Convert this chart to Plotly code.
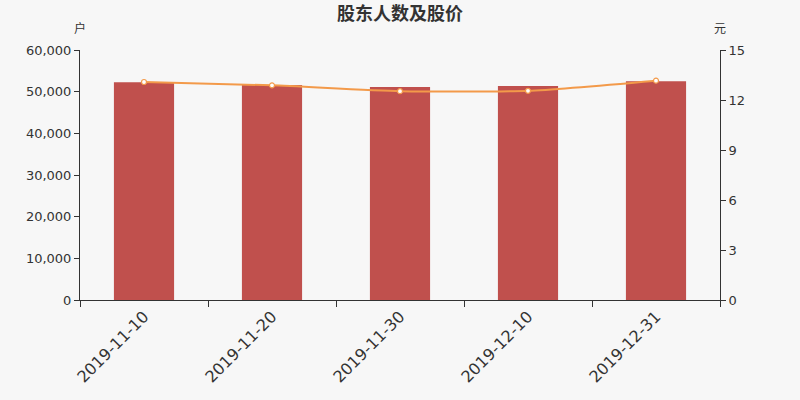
import plotly.graph_objects as go

# Data
dates = ["2019-11-10", "2019-11-20", "2019-11-30", "2019-12-10", "2019-12-31"]
holders = [52250, 51600, 51100, 51350, 52480]
prices = [13.08, 12.88, 12.53, 12.55, 13.16]

BG = "#f7f7f7"
BAR = "#c0504d"
LINE = "#f39a4a"
AXIS = "#333333"
TEXT = "#333333"
FONT = "DejaVu Sans, Noto Sans CJK SC, sans-serif"
CJK = "Noto Sans CJK SC"

fig = go.Figure()

fig.add_trace(go.Bar(
    x=dates, y=holders,
    marker=dict(color=BAR, line=dict(width=0)),
    width=0.47,
    name="股东人数",
    yaxis="y",
))

fig.add_trace(go.Scatter(
    x=dates, y=prices,
    mode="lines+markers",
    line=dict(color=LINE, width=2, shape="spline", smoothing=0.6),
    marker=dict(size=5, color="#ffffff", line=dict(color=LINE, width=1.2)),
    name="股价",
    yaxis="y2",
))

fig.update_layout(
    width=800, height=400,
    paper_bgcolor=BG, plot_bgcolor=BG,
    font=dict(family=FONT, color=TEXT),
    showlegend=False,
    margin=dict(l=80, r=80, t=50, b=100),
    title=dict(
        text="<b>股东人数及股价</b>",
        font=dict(size=18, color=TEXT, family=CJK),
        x=0.5, xanchor="center", y=0.965, yanchor="middle",
    ),
    xaxis=dict(
        type="category",
        showgrid=False,
        showline=True, linecolor=AXIS, linewidth=1,
        ticks="outside", ticklen=6, tickcolor=AXIS,
        tickson="boundaries",
        tickangle=-45,
        tickfont=dict(size=16, color=TEXT),
    ),
    yaxis=dict(
        range=[0, 60000],
        dtick=10000,
        tickformat=",d",
        showgrid=False, zeroline=False,
        showline=True, linecolor=AXIS, linewidth=1,
        ticks="outside", ticklen=5, tickcolor=AXIS,
        tickfont=dict(size=13, color=TEXT),
    ),
    yaxis2=dict(
        range=[0, 15],
        dtick=3,
        overlaying="y", side="right",
        showgrid=False, zeroline=False,
        showline=True, linecolor=AXIS, linewidth=1,
        ticks="outside", ticklen=5, tickcolor=AXIS,
        tickfont=dict(size=13, color=TEXT),
    ),
)

# unit labels above each y axis
fig.add_annotation(
    text="户", xref="paper", yref="paper", x=0, y=1.088,
    xanchor="center", yanchor="middle", showarrow=False,
    font=dict(size=12, color=TEXT, family=CJK),
)
fig.add_annotation(
    text="元", xref="paper", yref="paper", x=1, y=1.088,
    xanchor="center", yanchor="middle", showarrow=False,
    font=dict(size=12, color=TEXT, family=CJK),
)

fig.write_html(
    "out.html",
    config={"displayModeBar": False},
    post_script="document.body.style.margin='0';",
)
